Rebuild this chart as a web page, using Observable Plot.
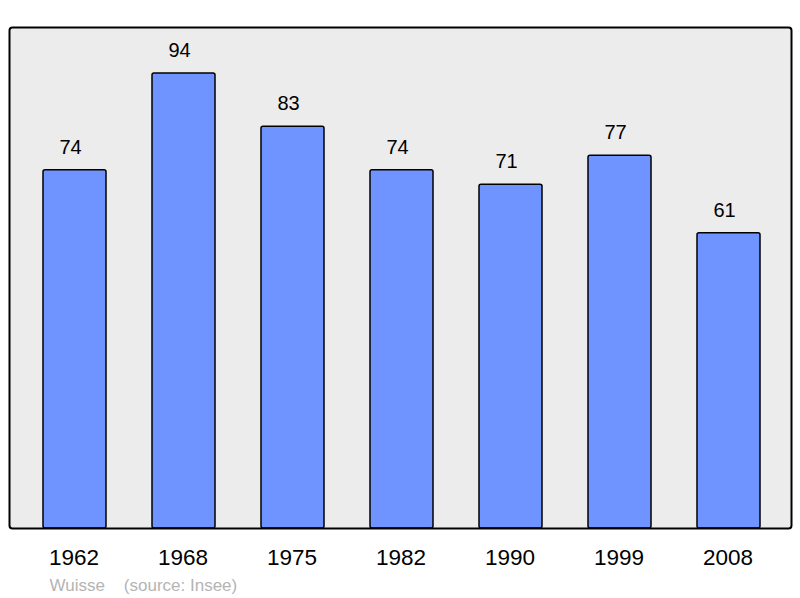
<!DOCTYPE html>
<html><head><meta charset="utf-8">
<script src="https://cdn.jsdelivr.net/npm/d3@7"></script>
<script src="https://cdn.jsdelivr.net/npm/@observablehq/plot@0.6"></script>
<style>body{margin:0;background:#fff}svg{display:block}</style>
</head><body><div id="chart"></div>
<script>
const years = ["1962","1968","1975","1982","1990","1999","2008"];
const population = [74, 94, 83, 74, 71, 77, 61];
const captionText = "Wuisse    (source: Insee)";

const data = years.map((y, i) => ({year: y, value: population[i]}));

const chart = Plot.plot({
  width: 800, height: 598,
  marginLeft: 9, marginRight: 9, marginTop: 27, marginBottom: 70,
  style: {fontFamily: "'Liberation Sans', Arial, sans-serif", background: "#fff"},
  x: {domain: years, paddingInner: 0.425, paddingOuter: 0.28, align: 0.52, axis: null},
  y: {domain: [0, 103.5], axis: null},
  marks: [
    Plot.frame({fill: "#ececec", stroke: "none", rx: 3}),
    Plot.barY(data, {x: "year", y: "value", fill: "#7094ff", stroke: "#000", strokeWidth: 1.5, rx: 2}),
    Plot.frame({fill: "none", stroke: "#000", strokeWidth: 2, rx: 3}),
    Plot.text(data, {x: "year", y: "value", text: d => String(d.value), dy: -23, dx: -4.5, fontSize: 20, fill: "#000"}),
    Plot.text(data, {x: "year", frameAnchor: "bottom", lineAnchor: "middle", text: "year", dy: 29, dx: -1, fontSize: 22.5, fill: "#000"}),
    Plot.text([captionText], {frameAnchor: "bottom-left", lineAnchor: "bottom", text: d => d, dx: 40, dy: 62, fontSize: 17, fill: "#b4b4b4", textAnchor: "start"})
  ]
});
document.getElementById("chart").append(chart);
</script></body></html>
